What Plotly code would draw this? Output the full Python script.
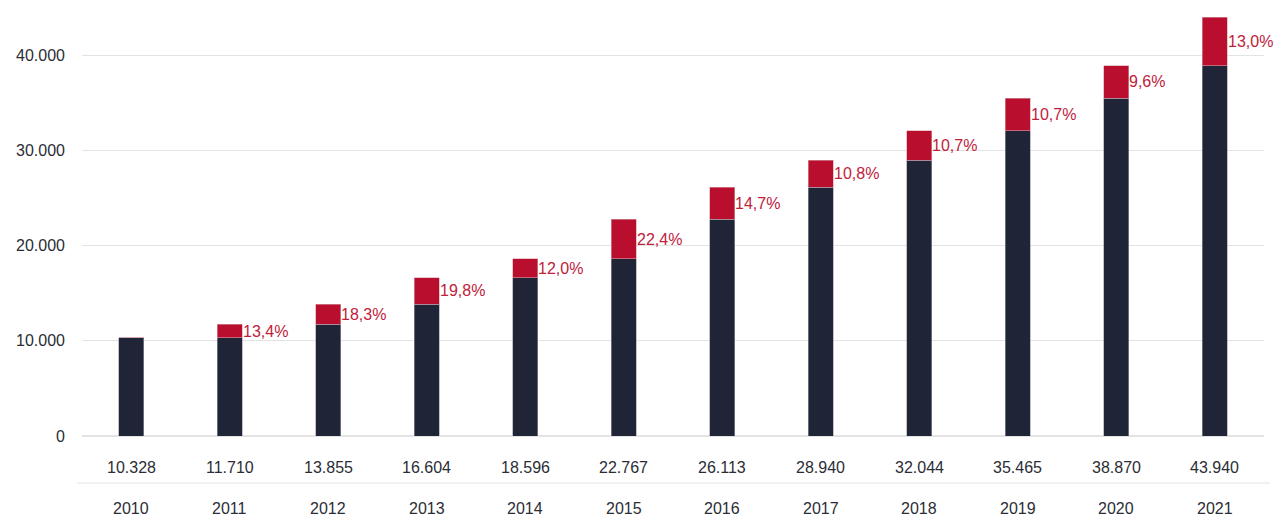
import plotly.graph_objects as go

years = ["2010", "2011", "2012", "2013", "2014", "2015", "2016", "2017", "2018", "2019", "2020", "2021"]
totals = [10328, 11710, 13855, 16604, 18596, 22767, 26113, 28940, 32044, 35465, 38870, 43940]
growth_labels = ["", "13,4%", "18,3%", "19,8%", "12,0%", "22,4%", "14,7%", "10,8%", "10,7%", "10,7%", "9,6%", "13,0%"]
value_labels = ["10.328", "11.710", "13.855", "16.604", "18.596", "22.767", "26.113", "28.940", "32.044", "35.465", "38.870", "43.940"]

base = [totals[0]] + totals[:-1]
incr = [t - b for t, b in zip(totals, base)]

NAVY = "#1f2437"
RED = "#b90e2e"
TEXT = "#2b2d36"
FONT = "Liberation Sans, Arial, sans-serif"

fig = go.Figure()
fig.add_trace(go.Bar(x=years, y=base, marker=dict(color=NAVY, line=dict(width=0.6, color="#9a9ca6")),
                     hoverinfo="skip"))
fig.add_trace(go.Bar(x=years, y=incr, marker=dict(color=RED, line=dict(width=0.6, color="#d8a0aa")),
                     hoverinfo="skip"))

annotations = []
for i, y in enumerate(years):
    if growth_labels[i]:
        annotations.append(dict(x=i, y=base[i] + incr[i] / 2, xref="x", yref="y", text=growth_labels[i],
                                showarrow=False, xanchor="left", yanchor="middle", xshift=11,
                                font=dict(family=FONT, size=16, color="#c0213b")))
    annotations.append(dict(x=i, y=-31 / 426, xref="x", yref="paper", text=value_labels[i],
                            showarrow=False, xanchor="center", yanchor="middle",
                            font=dict(family=FONT, size=16, color=TEXT)))
    annotations.append(dict(x=i, y=-73 / 426, xref="x", yref="paper", text=years[i],
                            showarrow=False, xanchor="center", yanchor="middle",
                            font=dict(family=FONT, size=16, color=TEXT)))

fig.update_layout(
    width=1277, height=517,
    barmode="stack", bargap=0.745,
    showlegend=False,
    plot_bgcolor="white", paper_bgcolor="white",
    margin=dict(l=82, r=13, t=10, b=81),
    separators=",.",
    font=dict(family=FONT, size=16, color=TEXT),
    xaxis=dict(type="category", range=[-0.5, 11.5], showticklabels=False, showgrid=False,
               zeroline=False, showline=False, ticks=""),
    yaxis=dict(range=[0, 44725], tickvals=[0, 10000, 20000, 30000, 40000], tickformat=",d",
               showgrid=True, gridcolor="#e3e3e3", gridwidth=1, zeroline=True, zerolinecolor="#e3e3e3",
               showline=False, ticks="", ticklabelstandoff=16,
               tickfont=dict(family=FONT, size=16, color=TEXT)),
    annotations=annotations,
    shapes=[dict(type="line", xref="paper", yref="paper", x0=-5 / 1182, x1=1.005,
                 y0=-47 / 426, y1=-47 / 426, line=dict(color="#e3e3e3", width=1))],
)

fig.write_html("out.html", config={"displayModeBar": False},
               post_script="document.body.style.margin='0';document.body.style.overflow='hidden';")
